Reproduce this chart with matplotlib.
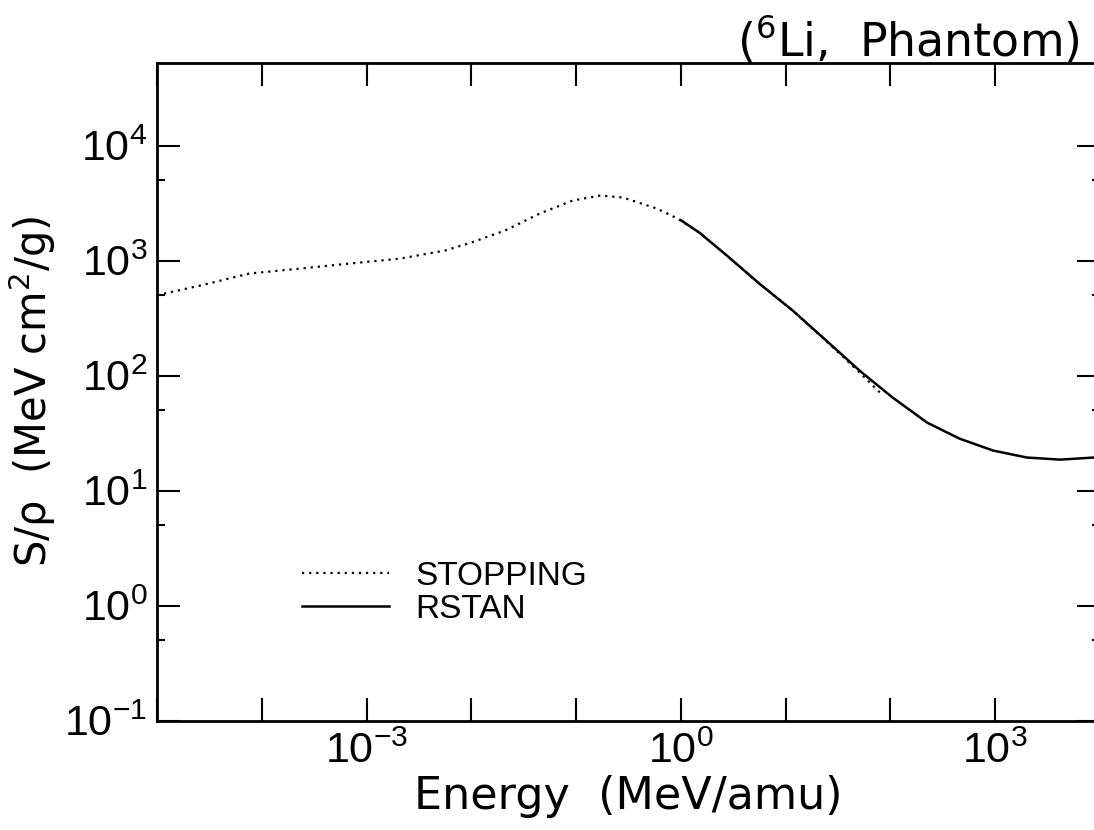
import matplotlib
matplotlib.use("Agg")
import matplotlib.pyplot as plt
from matplotlib.ticker import FixedLocator, FixedFormatter, NullFormatter

# ---- data ----
stopping_E = [1.0e-5, 2.6e-5, 7.6e-5, 2.3e-4, 6.9e-4, 2.1e-3, 5.6e-3, 1.0e-2,
              2.1e-2, 4.5e-2, 9.3e-2, 0.17, 0.28, 0.59, 0.93, 1.5, 2.75, 5.6,
              11.7, 24.5, 51.0, 85.0]
stopping_S = [500, 607, 771, 851, 942, 1040, 1222, 1435,
              1824, 2564, 3327, 3673, 3532, 2831, 2317, 1750, 1104, 631,
              367, 199, 106, 67]

rstan_E = [1.0, 1.5, 2.75, 5.6, 11.7, 24.5, 51.0, 105, 224, 457, 955,
           2000, 4170, 8700, 10000]
rstan_S = [2240, 1750, 1104, 631, 367, 201, 110, 64.4, 39.0, 28.3, 22.3,
           19.4, 18.6, 19.4, 19.6]

x_major = [1e-5, 1e-4, 1e-3, 1e-2, 1e-1, 1e0, 1e1, 1e2, 1e3, 1e4]
x_labels = ["", "", r"$\mathregular{10^{-3}}$", "", "", r"$\mathregular{10^{0}}$",
            "", "", r"$\mathregular{10^{3}}$", ""]
y_major = [1e-1, 1e0, 1e1, 1e2, 1e3, 1e4]
y_labels = [r"$\mathregular{10^{-1}}$", r"$\mathregular{10^{0}}$", r"$\mathregular{10^{1}}$",
            r"$\mathregular{10^{2}}$", r"$\mathregular{10^{3}}$", r"$\mathregular{10^{4}}$"]
y_minor = [5e-1, 5e0, 5e1, 5e2, 5e3]

series_labels = ["STOPPING", "RSTAN"]
title_text = r"($\mathregular{^{6}}$Li,  Phantom)"
xlabel_text = "Energy  (MeV/amu)"
ylabel_text = r"S/ρ  (MeV cm$\mathregular{^{2}}$/g)"

# ---- style ----
plt.rcParams["font.family"] = ["Liberation Sans", "DejaVu Sans"]
plt.rcParams["mathtext.fontset"] = "custom"
plt.rcParams["mathtext.rm"] = "Liberation Sans"
plt.rcParams["mathtext.it"] = "Liberation Sans:italic"
plt.rcParams["mathtext.bf"] = "Liberation Sans:bold"

W, H = 1094, 830
fig = plt.figure(figsize=(W / 100, H / 100), dpi=100)
left, right, top, bottom = 157, 1100, 62.7, 720.7
ax = fig.add_axes([left / W, 1 - bottom / H, (right - left) / W, (bottom - top) / H])

ax.set_xscale("log")
ax.set_yscale("log")
ax.set_xlim(1e-5, 1e4)
ax.set_ylim(1e-1, 10 ** 4.72)

ax.plot(stopping_E, stopping_S, color="black", lw=1.6, linestyle=(0, (1, 2.2)),
        label=series_labels[0])
ax.plot(rstan_E, rstan_S, color="black", lw=1.8, linestyle="-", label=series_labels[1])

ax.xaxis.set_major_locator(FixedLocator(x_major))
ax.xaxis.set_major_formatter(FixedFormatter(x_labels))
ax.xaxis.set_minor_locator(FixedLocator([]))
ax.yaxis.set_major_locator(FixedLocator(y_major))
ax.yaxis.set_major_formatter(FixedFormatter(y_labels))
ax.yaxis.set_minor_locator(FixedLocator(y_minor))
ax.yaxis.set_minor_formatter(NullFormatter())

ax.tick_params(which="major", direction="in", length=16.5, width=1.5,
               top=True, right=True, labelsize=31, pad=8)
ax.tick_params(which="minor", direction="in", length=6, width=1.5,
               top=False, right=True)
ax.tick_params(axis="y", which="major", pad=7)
for s in ax.spines.values():
    s.set_linewidth(2.0)

label_font = ["DejaVu Sans"]
ax.set_xlabel(xlabel_text, fontsize=32, labelpad=2, family=label_font)
ax.set_ylabel(ylabel_text, fontsize=30, family=label_font)
ax.yaxis.set_label_coords((58 - left) / (right - left), 0.5)

fig.text(1080 / W, 1 - 55 / H, title_text, fontsize=33, ha="right", va="baseline",
         family=label_font)

leg = ax.legend(loc="upper left",
                bbox_to_anchor=((302 - left) / (right - left), (bottom - 561) / (bottom - top)),
                frameon=False, fontsize=24, handlelength=2.6, handletextpad=0.8,
                labelspacing=0.05, borderpad=0, borderaxespad=0)

fig.savefig("out.png", dpi=100)
